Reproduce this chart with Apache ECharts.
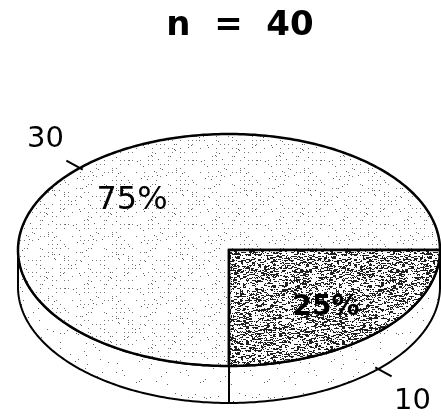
<!DOCTYPE html>
<html>
<head>
<meta charset="utf-8">
<script src="https://cdn.jsdelivr.net/npm/echarts@6/dist/echarts.min.js"></script>
<style>
  html, body { margin: 0; padding: 0; background: #fff; }
  #chart { width: 441px; height: 416px; }
</style>
</head>
<body>
<div id="chart"></div>
<script>
// Counts per group (slice order: clockwise from the bottom of the pie)
const counts = [30, 10];
const countLabels = ['30', '10'];
const sampleSize = 40;

// Pie geometry (tilted disc drawn as an ellipse with a side wall)
const geo = { cx: 229, cy: 250, rx: 211, ry: 116, depth: 37, startAngle: 90 };
const FONT = '"DejaVu Sans", sans-serif';

// Small deterministic hash used for the stippled print textures
function hash(x, y, s) {
  let h = (Math.imul(x, 374761393) + Math.imul(y, 668265263) + Math.imul(s, 1442695041)) | 0;
  h = Math.imul(h ^ (h >>> 13), 1274126177);
  h = h ^ (h >>> 16);
  return (h >>> 0) / 4294967296;
}
function makeTexture(size, shade) {
  const c = document.createElement('canvas');
  c.width = c.height = size;
  const g = c.getContext('2d');
  const img = g.createImageData(size, size);
  for (let y = 0; y < size; y++) {
    for (let x = 0; x < size; x++) {
      const v = shade(x, y);
      const k = (y * size + x) * 4;
      img.data[k] = img.data[k + 1] = img.data[k + 2] = v;
      img.data[k + 3] = 255;
    }
  }
  g.putImageData(img, 0, 0);
  return c;
}
// light halftone dots
const lightTex = makeTexture(64, (x, y) => {
  if (x % 4 === 0 && y % 4 === 0 && hash(x, y, 3) < 0.4) return 120;
  if (hash(x, y, 7) < 0.008) return 90;
  return 255;
});
// dark mottled grain with short horizontal streaks
const darkTex = makeTexture(96, (x, y) => {
  const v = hash(Math.floor(x / 3), y, 1) * 0.6 + hash(x, y, 2) * 0.4;
  return v < 0.42 ? 30 : 255;
});
// side wall: nearly white with sparse dots
const wallTex = makeTexture(64, (x, y) => (hash(x, y, 11) < 0.01 ? 100 : 255));

const sliceFills = [
  { image: lightTex, repeat: 'repeat' },
  { image: darkTex, repeat: 'repeat' }
];
const wallFill = { image: wallTex, repeat: 'repeat' };

const total = counts.reduce((a, b) => a + b, 0);
const cumulative = [];
counts.reduce((acc, v) => { cumulative.push(acc); return acc + v; }, 0);

function pt(deg, r, dy) {
  const t = deg * Math.PI / 180;
  return [geo.cx + geo.rx * r * Math.cos(t), geo.cy + geo.ry * r * Math.sin(t) + (dy || 0)];
}
function arc(a, b, r, dy) {
  const pts = [];
  const n = Math.max(2, Math.ceil(Math.abs(b - a)));
  for (let k = 0; k <= n; k++) pts.push(pt(a + (b - a) * k / n, r, dy));
  return pts;
}

function renderItem(params, api) {
  const i = params.dataIndex;
  const value = api.value(0);
  const a1 = geo.startAngle + cumulative[i] / total * 360;
  const a2 = a1 + value / total * 360;
  const children = [];

  // visible side wall (front half of the disc)
  for (let k = Math.floor(a1 / 360) - 1; k <= Math.ceil(a2 / 360); k++) {
    const lo = Math.max(a1, 360 * k), hi = Math.min(a2, 360 * k + 180);
    if (hi > lo) {
      const pts = arc(lo, hi, 1, 0).concat(arc(hi, lo, 1, geo.depth));
      children.push({
        type: 'polygon', shape: { points: pts },
        style: { fill: wallFill, stroke: '#000', lineWidth: 2, lineJoin: 'round' }
      });
    }
  }

  // top face
  children.push({
    type: 'polygon',
    shape: { points: [[geo.cx, geo.cy]].concat(arc(a1, a2, 1, 0)) },
    style: { fill: sliceFills[i], stroke: '#000', lineWidth: 2.5, lineJoin: 'miter' }
  });

  // percentage inside the slice
  const mid = (a1 + a2) / 2;
  const pc = pt(mid, 0.65, 4);
  const bold = i === 1;
  children.push({
    type: 'text',
    style: {
      text: Math.round(value / total * 100) + '%',
      x: pc[0], y: pc[1], align: 'center', verticalAlign: 'middle',
      font: (bold ? 'bold 28px ' : '32px ') + FONT, fill: '#000'
    }
  });

  // count label with a short leader across the rim
  const front = Math.sin(mid * Math.PI / 180) > 0;
  const dy = front ? geo.depth : 0;
  const p0 = pt(mid, 0.98, dy), p1 = pt(mid, 1.09, dy);
  children.push({
    type: 'line', shape: { x1: p0[0], y1: p0[1], x2: p1[0], y2: p1[1] },
    style: { stroke: '#000', lineWidth: 2 }
  });
  const t = mid * Math.PI / 180;
  children.push({
    type: 'text',
    style: {
      text: countLabels[i],
      x: geo.cx + geo.rx * 1.23 * Math.cos(t),
      y: geo.cy + dy + geo.ry * 1.37 * Math.sin(t) + 2,
      align: 'center', verticalAlign: 'middle',
      font: '29px ' + FONT, fill: '#000'
    }
  });

  return { type: 'group', children: children };
}

const chart = echarts.init(document.getElementById('chart'), null, { renderer: 'canvas' });
chart.setOption({
  animation: false,
  backgroundColor: '#fff',
  graphic: [{
    type: 'text', x: 240, y: 26,
    style: {
      text: 'n  =  ' + sampleSize, align: 'center', verticalAlign: 'middle',
      font: 'bold 34px ' + FONT, fill: '#000'
    }
  }],
  series: [{
    type: 'custom',
    coordinateSystem: 'none',
    data: counts.map(v => [v]),
    renderItem: renderItem
  }]
});
</script>
</body>
</html>
